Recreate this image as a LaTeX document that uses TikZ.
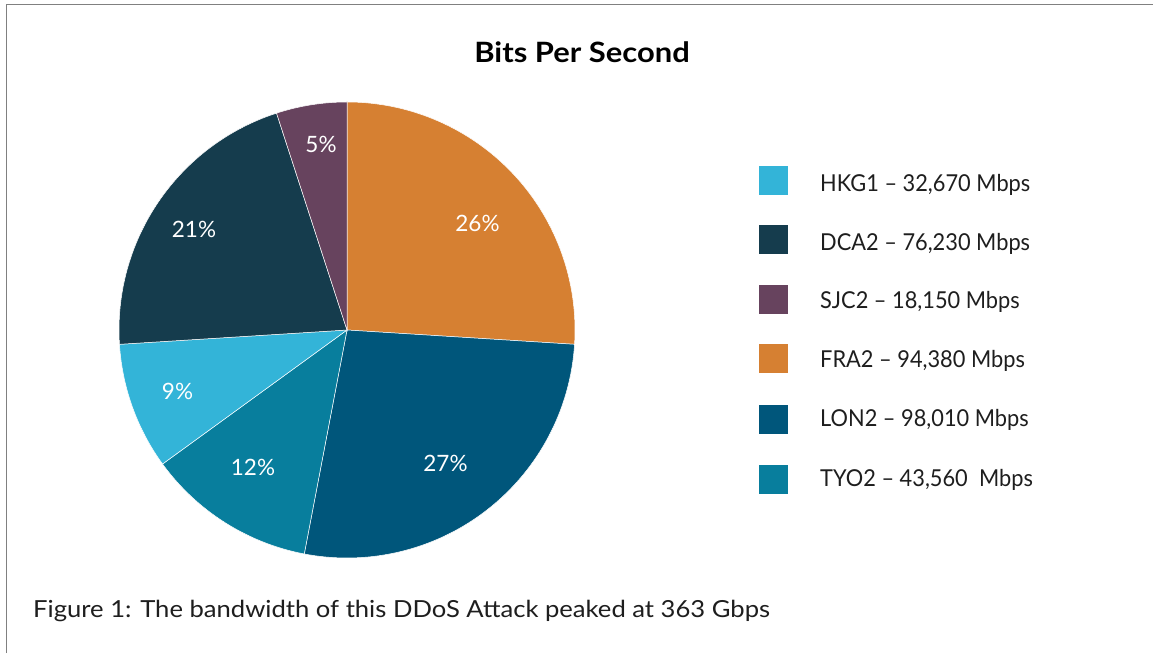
\documentclass[tikz,border=0pt]{standalone}
\usepackage{fontspec}
\setmainfont{Lato}
\newfontfamily\legfont[FakeStretch=0.935]{Lato}
\newfontfamily\capfont[FakeStretch=1.09]{Lato}
\newfontfamily\titlefont[FakeStretch=1.105]{Lato}
\definecolor{hkg}{HTML}{33B4D8}
\definecolor{dca}{HTML}{153C4D}
\definecolor{sjc}{HTML}{67435E}
\definecolor{fra}{HTML}{D68032}
\definecolor{lon}{HTML}{00567B}
\definecolor{tyo}{HTML}{087E9D}
\definecolor{txt}{HTML}{1E1E1E}
\definecolor{frame}{HTML}{808080}
\begin{document}
\begin{tikzpicture}[x=1pt,y=1pt,
  slice/.style={draw=white,line width=0.5pt},
  pct/.style={anchor=base,text=white,font=\fontsize{22.5}{26}\selectfont,inner sep=0pt},
  legtext/.style={anchor=base west,text=txt,font=\legfont\fontsize{23.3}{27}\selectfont,inner sep=0pt},
  captext/.style={anchor=base west,text=txt,font=\capfont\fontsize{23.5}{27}\selectfont,inner sep=0pt},
  swatch/.style={minimum width=29pt,minimum height=29pt,inner sep=0pt,draw=none}]
\useasboundingbox (0,0) rectangle (1153,653);
\fill[white] (0,0) rectangle (1153,653);
\draw[frame,line width=1.4pt] (6.6,0) -- (6.6,648.3) -- (1153,648.3);
\coordinate (c) at (347,323);
\def\R{228}
\fill[fra,slice] (c) -- ++(90:\R) arc[start angle=90,end angle=-3.6,radius=\R] -- cycle;
\fill[lon,slice] (c) -- ++(-3.6:\R) arc[start angle=-3.6,end angle=-100.8,radius=\R] -- cycle;
\fill[tyo,slice] (c) -- ++(-100.8:\R) arc[start angle=-100.8,end angle=-144,radius=\R] -- cycle;
\fill[hkg,slice] (c) -- ++(-144:\R) arc[start angle=-144,end angle=-176.4,radius=\R] -- cycle;
\fill[dca,slice] (c) -- ++(-176.4:\R) arc[start angle=-176.4,end angle=-252,radius=\R] -- cycle;
\fill[sjc,slice] (c) -- ++(-252:\R) arc[start angle=-252,end angle=-270,radius=\R] -- cycle;
\node[pct] (p5) at (321,500) {5\%};
\node[pct] (p26) at (477.5,421) {26\%};
\node[pct] (p21) at (194,415) {21\%};
\node[pct] (p9) at (177.5,253) {9\%};
\node[pct] (p12) at (253,177) {12\%};
\node[pct] (p27) at (445.5,181) {27\%};
\node[anchor=base,text=black,font=\titlefont\bfseries\fontsize{28}{32}\selectfont,inner sep=0pt] (title) at (582,590) {Bits Per Second};
\node[swatch,fill=hkg] (s1) at (773.5,472.7) {};
\node[swatch,fill=dca] (s2) at (773.5,413.5) {};
\node[swatch,fill=sjc] (s3) at (773.5,353.7) {};
\node[swatch,fill=fra] (s4) at (773.5,294) {};
\node[swatch,fill=lon] (s5) at (773.5,233.7) {};
\node[swatch,fill=tyo] (s6) at (773.5,173.5) {};
\node[legtext] (l1) at (820,461.3) {HKG1 – 32,670 Mbps};
\node[legtext] (l2) at (820,402.3) {DCA2 – 76,230 Mbps};
\node[legtext] (l3) at (820,344) {SJC2 – 18,150 Mbps};
\node[legtext] (l4) at (820,285.7) {FRA2 – 94,380 Mbps};
\node[legtext] (l5) at (820,226.3) {LON2 – 98,010 Mbps};
\node[legtext] (l6) at (820,166.3) {TYO2 – 43,560\ \ Mbps};
\node[captext] (cap) at (33,36) {Figure 1: The bandwidth of this DDoS Attack peaked at 363 Gbps};
\end{tikzpicture}
\end{document}
